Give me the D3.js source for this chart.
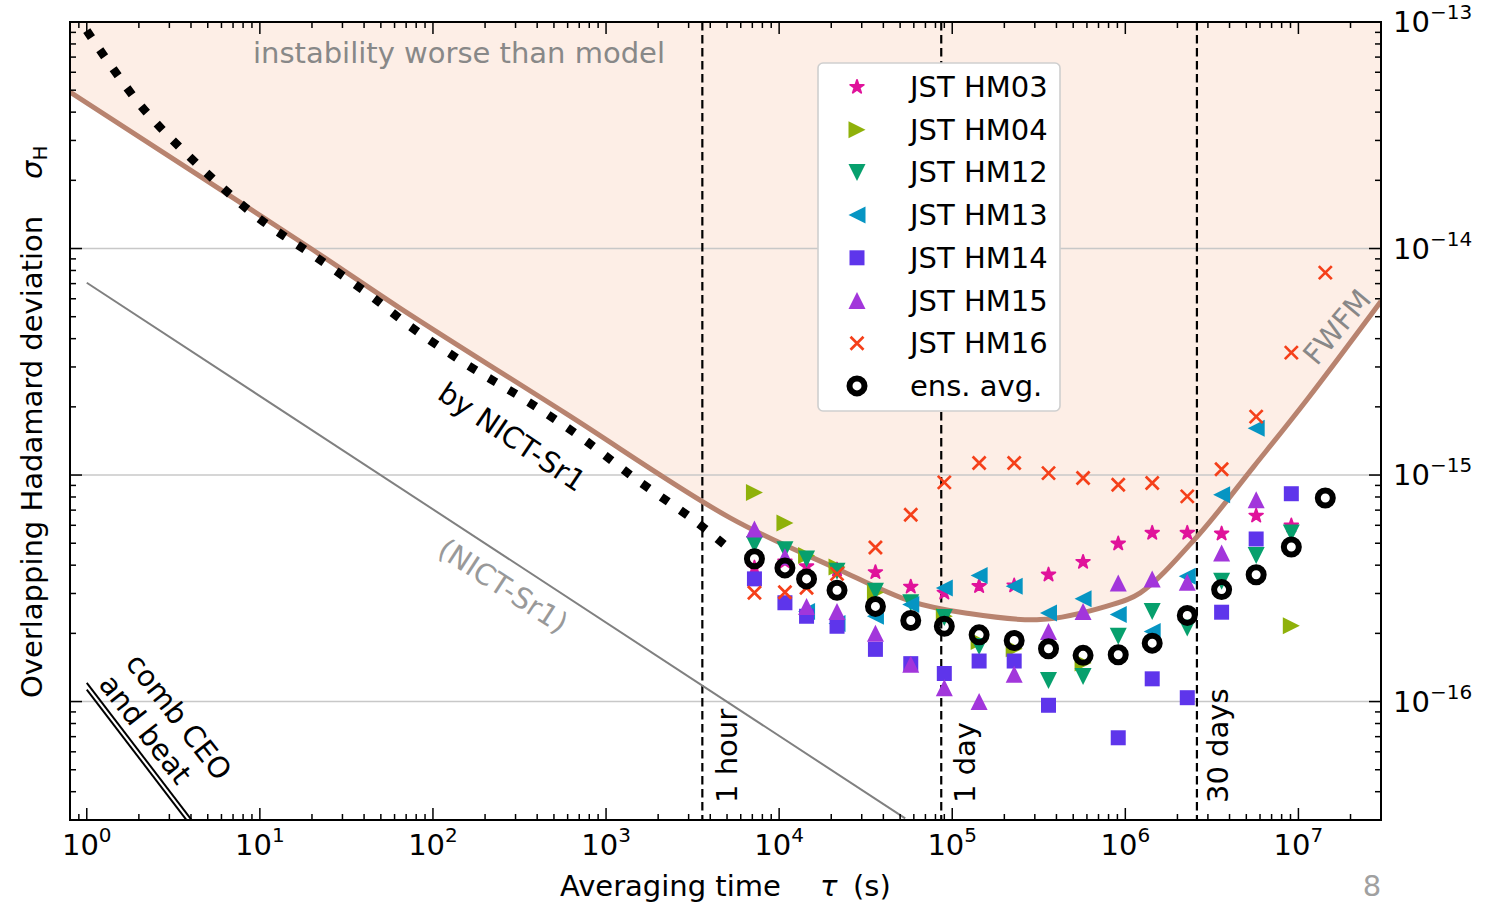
<!DOCTYPE html>
<html><head><meta charset="utf-8">
<script src="https://cdn.jsdelivr.net/npm/d3@7"></script>
<style>body{margin:0;background:#fff} text{font-family:"DejaVu Sans",sans-serif}</style>
</head><body><svg id="c" width="1499" height="902"></svg>
<script>
// averaging times (s) of the measured points
const tau = [7200,10800,14400,21600,36000,57600,90000,143000,228000,360000,570000,910000,1.43e6,2.28e6,3.6e6,5.7e6,9.1e6,1.43e7];
// Hadamard deviation values in units of 1e-16 (null = not visible)
const hm03 = [3.90,4.15,3.95,3.82,3.72,3.21,3.02,3.23,3.25,3.63,4.13,4.98,5.55,5.55,5.51,6.61,5.98,null];
const hm04 = [8.38,6.14,4.41,3.93,3.03,null,2.38,1.84,1.71,null,1.48,null,null,null,null,null,2.16,null];
const hm12 = [4.93,4.68,4.26,3.76,3.07,2.73,2.35,1.75,null,1.24,1.29,1.94,2.50,2.11,3.40,4.41,5.55,null];
const hm13 = [null,null,2.50,2.21,2.38,2.68,3.17,3.60,3.23,2.46,2.84,2.42,2.04,3.57,8.19,16.1,null,null];
const hm14 = [3.48,2.73,2.38,2.15,1.70,1.47,1.33,1.51,1.51,0.963,null,0.692,1.26,1.04,2.48,5.22,8.27,null];
const hm15 = [5.78,4.36,2.63,2.50,2.00,1.46,1.15,1.00,1.32,2.04,2.50,3.34,3.48,3.36,4.53,7.78,null,null];
const hm16 = [3.02,3.04,3.18,3.66,4.79,6.68,9.28,11.3,11.3,10.2,9.70,9.06,9.22,8.05,10.6,18.1,34.7,78.3];
const ensAvg = [4.27,3.89,3.48,3.10,2.63,2.28,2.15,1.97,1.86,1.71,1.60,1.61,1.81,2.40,3.12,3.63,4.81,7.92];
const seriesNames = ["JST HM03","JST HM04","JST HM12","JST HM13","JST HM14","JST HM15","JST HM16","ens. avg."];
const seriesColors = ["#e0139b","#8fb10a","#07a06d","#0695c3","#5e35eb","#a236db","#f5401a","#000000"];
const seriesShapes = ["star","right","down","left","square","up","x","circle"];
const seriesValues = [hm03,hm04,hm12,hm13,hm14,hm15,hm16,ensAvg];

// instability model curve
const modelTau = [0.8,19.5,64.4,579,5210,21100,57700,119000,323000,784000,1.22e6,2.61e6,5.52e6,1.12e7,3e7];
const modelSigma = [4.91e-14,1.005e-14,5.46e-15,1.88e-15,6.47e-16,3.89e-16,2.77e-16,2.46e-16,2.30e-16,2.64e-16,3.02e-16,5.37e-16,1.09e-15,2.15e-15,5.85e-15];
// dotted "by NICT-Sr1" curve
const nictTau = [1,2.07,4.88,9.86,20.8,44.3,71.9,157,340,724,1500,3200,4800];
const nictSigma = [9.16e-14,4.24e-14,2.17e-14,1.36e-14,9.23e-15,6.14e-15,4.60e-15,3.07e-15,2.15e-15,1.46e-15,9.55e-16,6.35e-16,4.95e-16];
// grey (NICT-Sr1) line
const sr1Tau = [1,53500];
const sr1Sigma = [7.06e-15,3.05e-17];
// comb CEO and beat lines
const combTau = [1,5];
const comb1Sigma = [1.21e-16,2.42e-17];
const comb2Sigma = [1.13e-16,2.26e-17];
// reference times
const markTimes = [3600,86400,2592000];
const markLabels = ["1 hour","1 day","30 days"];
const xTickExp = [0,1,2,3,4,5,6,7];
const yTickExp = [-13,-14,-15,-16];

const svg = d3.select("#c");
const L=70,R=1381,T=22,B=820;
const x = d3.scaleLog().domain([0.8,3e7]).range([L,R]);
const y = d3.scaleLog().domain([3e-17,1e-13]).range([B,T]);

svg.append("defs").append("clipPath").attr("id","clip").append("rect")
  .attr("x",L).attr("y",T).attr("width",R-L).attr("height",B-T);
const g = svg.append("g").attr("clip-path","url(#clip)");

const model = modelTau.map((t,i)=>[t,modelSigma[i]]);
// shaded region above model
g.append("path").datum(model)
  .attr("d", d3.area().x(d=>x(d[0])).y0(y(1e-13)-5).y1(d=>y(d[1])).curve(d3.curveCatmullRom))
  .attr("fill","#fdeee6");
// grid
yTickExp.forEach(e=>{
  g.append("line").attr("x1",L).attr("x2",R).attr("y1",y(Math.pow(10,e))).attr("y2",y(Math.pow(10,e)))
   .attr("stroke","#c8c8c8").attr("stroke-width",1.6);
});
// vertical dashed
markTimes.forEach(t=>{
  g.append("line").attr("x1",x(t)).attr("x2",x(t)).attr("y1",T).attr("y2",B)
   .attr("stroke","#000").attr("stroke-width",2.2).attr("stroke-dasharray","8.5,4.5");
});
const line = d3.line().x(d=>x(d[0])).y(d=>y(d[1]));
g.append("path").datum(sr1Tau.map((t,i)=>[t,sr1Sigma[i]])).attr("d",line)
  .attr("fill","none").attr("stroke","#808080").attr("stroke-width",2);
[comb1Sigma,comb2Sigma].forEach(s=>{
  g.append("path").datum(combTau.map((t,i)=>[t,s[i]])).attr("d",line)
   .attr("fill","none").attr("stroke","#000").attr("stroke-width",2);
});
g.append("path").datum(model).attr("d",line.curve(d3.curveCatmullRom))
  .attr("fill","none").attr("stroke","#b8836f").attr("stroke-width",5);
g.append("path").datum(nictTau.map((t,i)=>[t,nictSigma[i]])).attr("d",line.curve(d3.curveCatmullRom))
  .attr("fill","none").attr("stroke","#000").attr("stroke-width",8.5).attr("stroke-dasharray","8.5,14.8");

// marker shapes
function shapePath(s){
  const h=8.5;
  if(s==="up") return `M0,${-h}L${-h},${h}L${h},${h}Z`;
  if(s==="down") return `M0,${h}L${-h},${-h}L${h},${-h}Z`;
  if(s==="left") return `M${-h},0L${h},${-h}L${h},${h}Z`;
  if(s==="right") return `M${h},0L${-h},${-h}L${-h},${h}Z`;
  if(s==="square") return d3.symbol(d3.symbolSquare,225)();
  if(s==="star") return d3.symbol(d3.symbolStar,58)();
  if(s==="x") return "M-6.5,-6.5L6.5,6.5M-6.5,6.5L6.5,-6.5";
  return null;
}
function drawMarker(sel, s, color){
  if(s==="circle"){
    sel.append("circle").attr("r",7.5).attr("fill","none").attr("stroke",color).attr("stroke-width",6);
  } else if(s==="x"){
    sel.append("path").attr("d",shapePath(s)).attr("fill","none").attr("stroke",color).attr("stroke-width",2.7);
  } else if(s==="star"){
    sel.append("path").attr("d",shapePath(s)).attr("fill",color).attr("stroke",color)
      .attr("stroke-width",1.8).attr("stroke-linejoin","round");
  } else {
    sel.append("path").attr("d",shapePath(s)).attr("fill",color);
  }
}
seriesValues.forEach((vals,si)=>{
  vals.forEach((v,i)=>{
    if(v==null) return;
    const m = svg.append("g").attr("transform",`translate(${x(tau[i])},${y(v*1e-16)})`);
    drawMarker(m, seriesShapes[si], seriesColors[si]);
  });
});

// frame
svg.append("rect").attr("x",L).attr("y",T).attr("width",R-L).attr("height",B-T)
  .attr("fill","none").attr("stroke","#000").attr("stroke-width",2);
// ticks
const tk = svg.append("g").attr("stroke","#000").attr("stroke-width",1.5);
const [xd0,xd1]=x.domain(), [yd0,yd1]=y.domain();
for(let e=-1;e<=8;e++) for(let k=1;k<=9;k++){
  const v=k*Math.pow(10,e); if(v<xd0*0.999||v>xd1*1.001) continue;
  const len = k===1?12:6, px=x(v);
  tk.append("line").attr("x1",px).attr("x2",px).attr("y1",B).attr("y2",B-len);
  tk.append("line").attr("x1",px).attr("x2",px).attr("y1",T).attr("y2",T+len);
}
for(let e=-18;e<=-13;e++) for(let k=1;k<=9;k++){
  const v=k*Math.pow(10,e); if(v<yd0*0.999||v>yd1*1.001) continue;
  const len = k===1?12:6, py=y(v);
  tk.append("line").attr("x1",L).attr("x2",L+len).attr("y1",py).attr("y2",py);
  tk.append("line").attr("x1",R).attr("x2",R-len).attr("y1",py).attr("y2",py);
}
// tick labels
xTickExp.forEach(e=>{
  const t = svg.append("text").attr("x",x(Math.pow(10,e))).attr("y",855).attr("text-anchor","middle")
    .attr("font-size",29).attr("fill","#000");
  t.append("tspan").text("10");
  t.append("tspan").attr("font-size",20).attr("dy",-13).text(String(e));
});
yTickExp.forEach(e=>{
  const t = svg.append("text").attr("x",R+12).attr("y",y(Math.pow(10,e))+10)
    .attr("font-size",29).attr("fill","#000");
  t.append("tspan").text("10");
  t.append("tspan").attr("font-size",20).attr("dy",-13).text("\u2212"+String(-e));
});
// axis labels
const xl = svg.append("text").attr("x",560).attr("y",896).attr("font-size",29).attr("fill","#000");
xl.append("tspan").text("Averaging time");
xl.append("tspan").attr("x",820).attr("font-style","italic").text("\u03c4");
xl.append("tspan").attr("x",853).text("(s)");
const yl = svg.append("text").attr("transform","translate(42,698) rotate(-90)").attr("font-size",29).attr("fill","#000");
yl.append("tspan").text("Overlapping Hadamard deviation");
yl.append("tspan").attr("dx",37).attr("font-style","italic").text("\u03c3");
yl.append("tspan").attr("font-size",20).attr("dy",5).text("H");
svg.append("text").attr("x",1372).attr("y",896).attr("text-anchor","middle").attr("font-size",29)
  .attr("fill","#a0a0a0").text("8");

// annotations
svg.append("text").attr("x",253).attr("y",63).attr("font-size",29).attr("fill","#888").text("instability worse than model");
markTimes.forEach((t,i)=>{
  const off=[25,24,21][i];
  svg.append("text").attr("transform",`translate(${x(t)+off},803) rotate(-90)`)
    .attr("dominant-baseline","central").attr("font-size",29).attr("fill","#000").text(markLabels[i]);
});
svg.append("text").attr("transform","translate(512,437) rotate(34)").attr("text-anchor","middle")
  .attr("dominant-baseline","central").attr("font-size",29).attr("fill","#000").text("by NICT-Sr1");
svg.append("text").attr("transform","translate(503,586) rotate(33)").attr("text-anchor","middle")
  .attr("dominant-baseline","central").attr("font-size",29).attr("fill","#999").text("(NICT-Sr1)");
svg.append("text").attr("transform","translate(1337,327) rotate(-50)").attr("text-anchor","middle")
  .attr("dominant-baseline","central").attr("font-size",29).attr("fill","#888").text("FWFM");
const cb = svg.append("g").attr("transform","translate(162,723) rotate(52)");
cb.append("text").attr("x",-70).attr("y",-17).attr("dominant-baseline","central").attr("font-size",29).text("comb CEO");
cb.append("text").attr("x",-70).attr("y",17).attr("dominant-baseline","central").attr("font-size",29).text("and beat");

// legend
const lg = svg.append("g");
lg.append("rect").attr("x",818).attr("y",63).attr("width",242).attr("height",348).attr("rx",5)
  .attr("fill","#fff").attr("stroke","#cfcfcf").attr("stroke-width",1.6);
seriesNames.forEach((n,i)=>{
  const yy = 87 + i*42.7;
  const m = lg.append("g").attr("transform",`translate(857,${yy})`);
  drawMarker(m, seriesShapes[i], seriesColors[i]);
  lg.append("text").attr("x",910).attr("y",yy+10).attr("font-size",29).attr("fill","#000").text(n);
});
</script></body></html>
